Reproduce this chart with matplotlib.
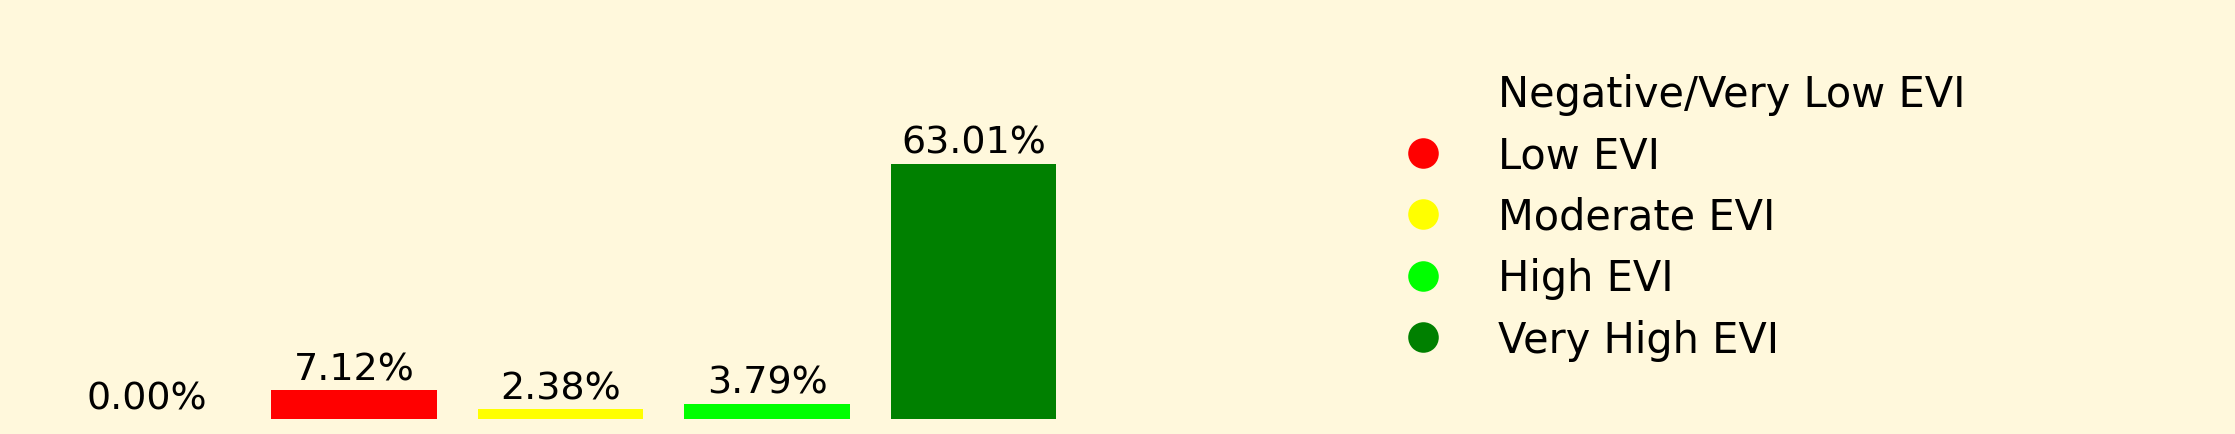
import matplotlib
matplotlib.use('Agg')
import matplotlib.pyplot as plt
from matplotlib.lines import Line2D

# EVI classes and share of area (%)
classes = ['Negative/Very Low EVI', 'Low EVI', 'Moderate EVI', 'High EVI', 'Very High EVI']
percents = [0.00, 7.12, 2.38, 3.79, 63.01]
colors = ['none', 'red', 'yellow', 'lime', 'green']

bg = '#fff8dc'

fig = plt.figure(figsize=(11.175, 2.175), dpi=200, facecolor=bg)
ax = fig.add_axes([15/2235, 15/435, 1091/2235, 268/435])
ax.set_facecolor(bg)

x = range(len(classes))
bars = ax.bar(x, percents, width=0.8, color=colors)
ax.set_ylim(0, max(percents) * 1.05)

for rect, p in zip(bars, percents):
    ax.annotate('%.2f%%' % p, (rect.get_x() + rect.get_width() / 2, rect.get_height()),
                xytext=(0, 1), textcoords='offset points',
                ha='center', va='bottom', fontsize=13.7)

ax.axis('off')

handles = [Line2D([], [], marker='o', linestyle='none', markersize=11,
                  markerfacecolor=c, markeredgecolor='none') for c in colors]
leg = fig.legend(handles, classes, loc='upper left', bbox_to_anchor=(1365/2235, 1 - 57/435),
                 frameon=False, fontsize=14.95, borderaxespad=0, handlelength=2,
                 handletextpad=0.8, labelspacing=0.47)

fig.savefig('out.png', dpi=200, facecolor=bg)
